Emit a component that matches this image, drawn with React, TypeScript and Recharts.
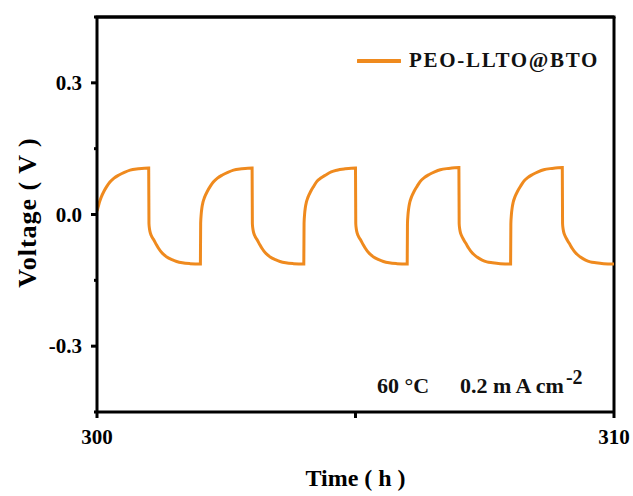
import {
  Legend,
  Line,
  LineChart,
  ReferenceLine,
  XAxis,
  YAxis,
} from "recharts";

// time (h), voltage (V), one array per 2 h cycle
const cycle1: [number, number][] = [
  [300.0, 0.008], [300.03, 0.02], [300.05, 0.029], [300.08, 0.039], [300.135, 0.053],
  [300.19, 0.064], [300.25, 0.074], [300.33, 0.083], [300.425, 0.09], [300.53, 0.096],
  [300.64, 0.101], [300.8, 0.104], [301.0, 0.106],
  [301.005, -0.02], [301.012, -0.03], [301.025, -0.039], [301.05, -0.048], [301.1, -0.058],
  [301.15, -0.069], [301.19, -0.077], [301.26, -0.088], [301.35, -0.097], [301.45, -0.103],
  [301.54, -0.107], [301.65, -0.11], [301.8, -0.112], [302.0, -0.113],
];
const cycle2: [number, number][] = [
  [302.005, -0.02], [302.015, 0.0], [302.03, 0.016], [302.05, 0.028], [302.08, 0.039],
  [302.135, 0.053], [302.19, 0.064], [302.25, 0.074], [302.33, 0.083], [302.425, 0.09],
  [302.53, 0.096], [302.64, 0.101], [302.8, 0.104], [303.0, 0.106],
  [303.005, -0.02], [303.012, -0.03], [303.025, -0.039], [303.05, -0.048], [303.1, -0.058],
  [303.15, -0.069], [303.19, -0.077], [303.26, -0.088], [303.35, -0.097], [303.45, -0.103],
  [303.54, -0.107], [303.65, -0.11], [303.8, -0.112], [304.0, -0.113],
];
const cycle3: [number, number][] = [
  [304.005, -0.02], [304.015, 0.0], [304.03, 0.016], [304.05, 0.028], [304.08, 0.039],
  [304.135, 0.053], [304.19, 0.064], [304.25, 0.075], [304.33, 0.083], [304.425, 0.09],
  [304.53, 0.097], [304.64, 0.101], [304.8, 0.104], [305.0, 0.106],
  [305.005, -0.02], [305.012, -0.03], [305.025, -0.039], [305.05, -0.048], [305.1, -0.058],
  [305.15, -0.069], [305.19, -0.077], [305.26, -0.088], [305.35, -0.097], [305.45, -0.103],
  [305.54, -0.107], [305.65, -0.11], [305.8, -0.112], [306.0, -0.113],
];
const cycle4: [number, number][] = [
  [306.005, -0.021], [306.015, -0.001], [306.03, 0.015], [306.05, 0.028], [306.08, 0.039],
  [306.135, 0.053], [306.19, 0.064], [306.25, 0.075], [306.33, 0.084], [306.425, 0.091],
  [306.53, 0.097], [306.64, 0.102], [306.8, 0.105], [307.0, 0.107],
  [307.005, -0.02], [307.012, -0.03], [307.025, -0.039], [307.05, -0.048], [307.1, -0.059],
  [307.15, -0.069], [307.19, -0.077], [307.26, -0.088], [307.35, -0.097], [307.45, -0.104],
  [307.54, -0.108], [307.65, -0.11], [307.8, -0.112], [308.0, -0.113],
];
const cycle5: [number, number][] = [
  [308.005, -0.021], [308.015, -0.001], [308.03, 0.015], [308.05, 0.028], [308.08, 0.039],
  [308.135, 0.053], [308.19, 0.064], [308.25, 0.075], [308.33, 0.084], [308.425, 0.091],
  [308.53, 0.097], [308.64, 0.102], [308.8, 0.105], [309.0, 0.107],
  [309.005, -0.02], [309.012, -0.03], [309.025, -0.039], [309.05, -0.048], [309.1, -0.059],
  [309.15, -0.069], [309.19, -0.077], [309.26, -0.088], [309.35, -0.097], [309.45, -0.104],
  [309.54, -0.108], [309.65, -0.11], [309.8, -0.112], [310.0, -0.113],
];

const xTicks = [300, 305, 310];
const xLabelled = [300, 310];
const yTicks = [-0.45, -0.3, -0.15, 0, 0.15, 0.3, 0.45];
const yLabelled = [-0.3, 0, 0.3];

const seriesName = "PEO-LLTO@BTO";
const lineColor = "#EF8A1E";
const font = "'Liberation Serif', 'Times New Roman', serif";

const data = [...cycle1, ...cycle2, ...cycle3, ...cycle4, ...cycle5].map(
  ([t, v]) => ({ t, v })
);

const XTick = (props: any) => {
  const { x, y, payload } = props;
  const labelled = xLabelled.includes(payload.value);
  return (
    <g>
      <line x1={x} x2={x} y1={y} y2={y + 6} stroke="#000" strokeWidth={3} />
      {labelled && (
        <text
          x={x}
          y={y + 25}
          textAnchor="middle"
          dominantBaseline="central"
          fontFamily={font}
          fontWeight="bold"
          fontSize={21}
          fill="#000"
        >
          {payload.value}
        </text>
      )}
    </g>
  );
};

const YTick = (props: any) => {
  const { x, y, payload } = props;
  const labelled = yLabelled.some((v) => Math.abs(v - payload.value) < 1e-9);
  return (
    <g>
      <line
        x1={x - (labelled ? 6 : 3)}
        x2={x}
        y1={y}
        y2={y}
        stroke="#000"
        strokeWidth={3}
      />
      {labelled && (
        <text
          x={x - 15}
          y={y}
          textAnchor="end"
          dominantBaseline="central"
          fontFamily={font}
          fontWeight="bold"
          fontSize={21}
          fill="#000"
        >
          {payload.value.toFixed(1)}
        </text>
      )}
    </g>
  );
};

const YTitle = (props: any) => {
  const { viewBox } = props;
  const cx = 27;
  const cy = viewBox.y + viewBox.height / 2 - 2;
  return (
    <text
      x={cx}
      y={cy}
      transform={`rotate(-90 ${cx} ${cy})`}
      textAnchor="middle"
      dominantBaseline="central"
      fontFamily={font}
      fontWeight="bold"
      fontSize={26}
      letterSpacing={1}
      fill="#000"
    >
      Voltage ( V )
    </text>
  );
};

const LegendBox = () => (
  <div style={{ display: "flex", alignItems: "center", fontFamily: font }}>
    <svg width={44} height={6} style={{ display: "block" }}>
      <line x1={1} x2={43} y1={3} y2={3} stroke={lineColor} strokeWidth={4} strokeLinecap="round" />
    </svg>
    <span
      style={{
        marginLeft: 8,
        fontWeight: "bold",
        fontSize: 21,
        letterSpacing: 1.7,
        color: "#111",
      }}
    >
      {seriesName}
    </span>
  </div>
);

export default function App() {
  return (
    <div style={{ position: "absolute", left: 0, top: 0, width: 633, height: 496, background: "#fff" }}>
      <LineChart
        width={633}
        height={496}
        data={data}
        margin={{ top: 17, right: 19, bottom: 0, left: 0 }}
      >
        <XAxis
          dataKey="t"
          type="number"
          domain={[300, 310]}
          ticks={xTicks}
          height={84}
          tickSize={0}
          tickMargin={0}
          tickLine={false}
          axisLine={{ stroke: "#000", strokeWidth: 3 }}
          tick={<XTick />}
          allowDataOverflow
          label={{
            value: "Time ( h )",
            position: "insideBottom",
            offset: 10,
            fontSize: 24,
            style: { fontFamily: font, fontWeight: "bold", fontSize: 24, fill: "#000" },
          }}
        />
        <YAxis
          type="number"
          domain={[-0.45, 0.45]}
          ticks={yTicks}
          width={97}
          tickSize={0}
          tickMargin={0}
          tickLine={false}
          axisLine={{ stroke: "#000", strokeWidth: 3 }}
          tick={<YTick />}
          allowDataOverflow
          label={<YTitle />}
        />
        <ReferenceLine y={0.45} stroke="#000" strokeWidth={3} ifOverflow="visible" />
        <ReferenceLine x={310} stroke="#000" strokeWidth={3} ifOverflow="visible" />
        <Legend
          layout="vertical"
          align="center"
          verticalAlign="middle"
          wrapperStyle={{ position: "absolute", top: 48, left: 357, width: "auto", height: "auto" }}
          content={() => <LegendBox />}
        />
        <Line
          type="monotone"
          dataKey="v"
          name={seriesName}
          stroke={lineColor}
          strokeWidth={3}
          dot={false}
          isAnimationActive={false}
        />
      </LineChart>
      <svg
        width={633}
        height={496}
        style={{ position: "absolute", left: 0, top: 0, pointerEvents: "none" }}
      >
        {/* top edge of the plot frame */}
        <rect x={95.5} y={15.5} width={520} height={3} fill="#000" />
        <g fontFamily={font} fontWeight="bold" fontSize={22} fill="#111">
          <text x={377} y={393}>60 °C</text>
          <text x={460} y={393}>
            0.2 m A cm
            <tspan dx={2} dy={-9} fontSize={20}>-2</tspan>
          </text>
        </g>
      </svg>
    </div>
  );
}
